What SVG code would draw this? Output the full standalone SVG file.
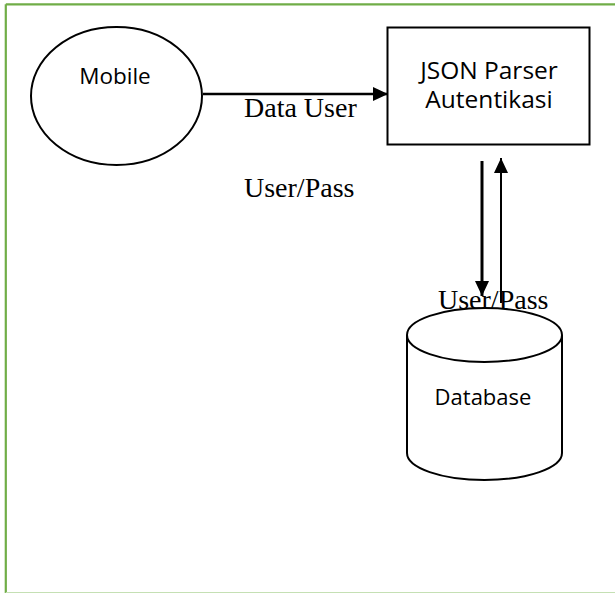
<svg xmlns="http://www.w3.org/2000/svg" width="615" height="593" viewBox="0 0 615 593">
<style>
.shape{fill:#ffffff;stroke:#000000;stroke-width:2}
.sans{font-family:"Open Sans","Noto Sans","Liberation Sans",sans-serif;fill:#000000}
.serif{font-family:"Liberation Serif","Times New Roman",serif;font-size:28px;fill:#000000}
.border{stroke:#70AD47;stroke-width:2.2;fill:none}
</style>
<defs>
<marker id="ah" markerUnits="userSpaceOnUse" markerWidth="16" markerHeight="16" refX="15" refY="7" orient="auto">
<path d="M0,0 L15,7 L0,14 Z" fill="#000000"/>
</marker>
</defs>
<rect x="0" y="0" width="615" height="593" fill="#ffffff"/>
<g id="frame">
<line class="border" x1="5.8" y1="4.3" x2="615" y2="4.3"/>
<line class="border" x1="5.8" y1="4.3" x2="5.8" y2="593"/>
<line x1="5.8" y1="592.5" x2="615" y2="592.5" stroke="#C5E0B4" stroke-width="1"/>
</g>
<g id="mobile">
<ellipse class="shape" cx="116.5" cy="96" rx="85.5" ry="69"/>
<text class="sans" x="115" y="84" font-size="22.5" text-anchor="middle">Mobile</text>
</g>
<g id="parser">
<rect class="shape" x="387.5" y="27.5" width="202" height="117" stroke-width="2.5"/>
<text class="sans" font-size="24.5" text-anchor="middle"><tspan x="489" y="79">JSON Parser</tspan><tspan x="489" y="108">Autentikasi</tspan></text>
</g>
<g id="database">
<path class="shape" d="M407,335 L407,453 A77.5,27 0 0 0 562,453 L562,335"/>
<ellipse class="shape" cx="484.5" cy="335" rx="77.5" ry="27"/>
<text class="sans" x="483" y="405" font-size="22" text-anchor="middle">Database</text>
</g>
<g id="connectors">
<line x1="203" y1="94" x2="388" y2="94" stroke="#000000" stroke-width="2.5" marker-end="url(#ah)"/>
<line x1="482" y1="161" x2="482" y2="296" stroke="#000000" stroke-width="3" marker-end="url(#ah)"/>
<line x1="501" y1="303" x2="501" y2="158" stroke="#000000" stroke-width="2" marker-end="url(#ah)"/>
</g>
<g id="labels">
<text class="serif" x="244" y="117">Data User</text>
<text class="serif" x="244" y="197">User/Pass</text>
<text class="serif" x="438" y="309">User/Pass</text>
</g>
</svg>
